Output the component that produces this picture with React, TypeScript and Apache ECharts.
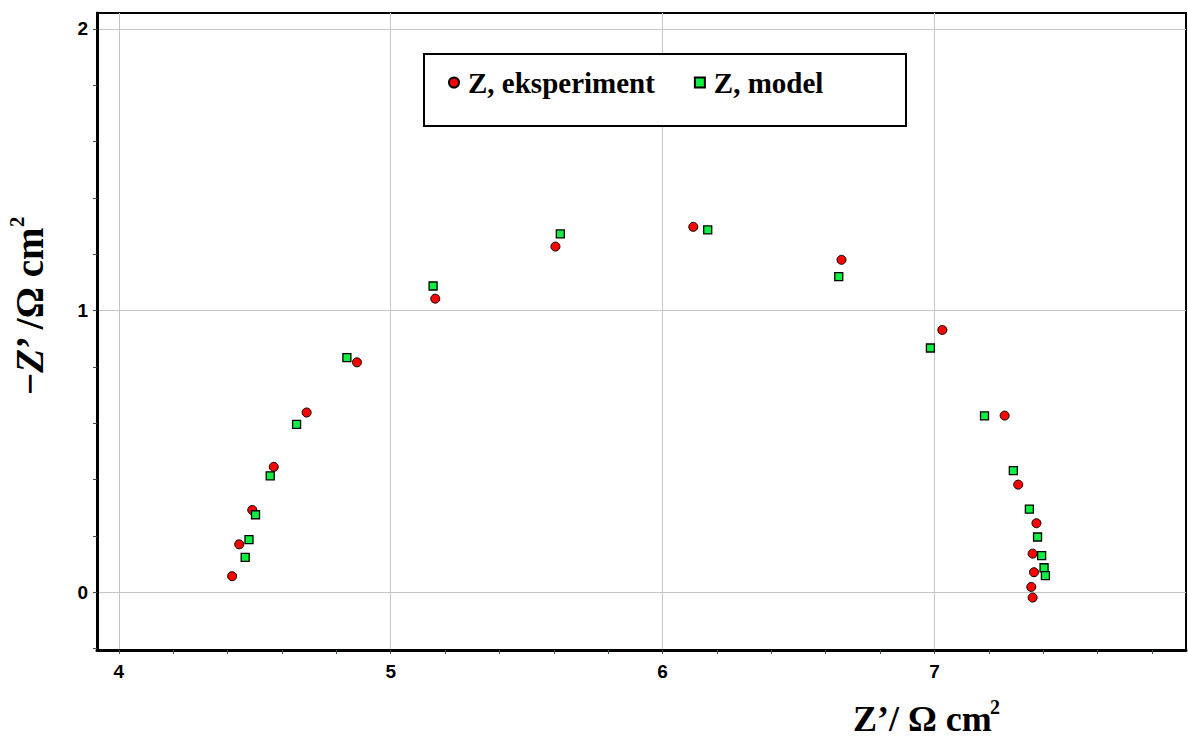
import React, { useEffect, useRef } from "react";
import * as echarts from "echarts";

const seriesNames = ["Z, eksperiment", "Z, model"];

const expX = [4.417, 4.443, 4.491, 4.570, 4.691, 4.876, 5.164, 5.606, 6.113, 6.658, 7.029, 7.258, 7.308, 7.375, 7.361, 7.366, 7.356, 7.361];
const expY = [0.057, 0.170, 0.292, 0.445, 0.638, 0.816, 1.042, 1.227, 1.297, 1.180, 0.931, 0.627, 0.382, 0.245, 0.137, 0.071, 0.019, -0.019];

const modX = [4.465, 4.479, 4.503, 4.557, 4.654, 4.839, 5.156, 5.624, 6.166, 6.648, 6.985, 7.184, 7.290, 7.349, 7.379, 7.394, 7.403, 7.408];
const modY = [0.124, 0.187, 0.275, 0.413, 0.596, 0.833, 1.087, 1.272, 1.286, 1.120, 0.867, 0.626, 0.432, 0.295, 0.196, 0.130, 0.087, 0.059];

const xTickValues = [4, 4.2, 4.4, 4.6, 4.8, 5, 5.2, 5.4, 5.6, 5.8, 6, 6.2, 6.4, 6.6, 6.8, 7, 7.2, 7.4, 7.6, 7.8];
const xLabelValues = [4, 5, 6, 7];
const yTickValues = [-0.2, 0, 0.2, 0.4, 0.6, 0.8, 1, 1.2, 1.4, 1.6, 1.8, 2];
const yLabelValues = [0, 1, 2];

const X_MIN = 3.92;
const X_MAX = 7.925;
const Y_MIN = -0.205;
const Y_MAX = 2.056;

const SERIF = "'Liberation Serif', 'Times New Roman', serif";
const SANS = "Arial, 'Liberation Sans', sans-serif";
const TICK_FONT = 19;

export default function App() {
  const ref = useRef<HTMLDivElement>(null);

  useEffect(() => {
    document.body.style.margin = "0";
    const chart = echarts.init(ref.current!, null, { renderer: "svg" });

    const tickStyle = { show: true, length: 4, inside: false, lineStyle: { color: "#2f5656", width: 1 } };

    const option: any = {
      animation: false,
      backgroundColor: "#fff",
      textStyle: { fontFamily: SANS },
      grid: {
        left: 97,
        right: 2,
        top: 13,
        bottom: 87,
        show: true,
        borderColor: "#000",
        borderWidth: 2,
        backgroundColor: "transparent",
      },
      xAxis: [
        {
          type: "value",
          min: X_MIN,
          max: X_MAX,
          position: "bottom",
          axisLine: { show: true, onZero: false, lineStyle: { color: "#000", width: 3 } },
          axisTick: { ...tickStyle, customValues: xTickValues },
          axisLabel: {
            show: true,
            color: "#000",
            fontFamily: SANS,
            fontWeight: "bold",
            fontSize: TICK_FONT,
            margin: 12,
            customValues: xLabelValues,
          },
          splitLine: { show: false },
        },
        {
          type: "value",
          min: X_MIN,
          max: X_MAX,
          position: "top",
          axisLine: { show: false },
          axisTick: { show: false, customValues: xLabelValues },
          axisLabel: { show: false },
          splitLine: { show: true, lineStyle: { color: "#c4c4c4", width: 1 } },
        },
      ],
      yAxis: [
        {
          type: "value",
          min: Y_MIN,
          max: Y_MAX,
          position: "left",
          axisLine: { show: true, onZero: false, lineStyle: { color: "#000", width: 3 } },
          axisTick: { ...tickStyle, customValues: yTickValues },
          axisLabel: {
            show: true,
            color: "#000",
            fontFamily: SANS,
            fontWeight: "bold",
            fontSize: TICK_FONT,
            margin: 9,
            customValues: yLabelValues,
          },
          splitLine: { show: false },
        },
        {
          type: "value",
          min: Y_MIN,
          max: Y_MAX,
          position: "right",
          axisLine: { show: false },
          axisTick: { show: false, customValues: yLabelValues },
          axisLabel: { show: false },
          splitLine: { show: true, lineStyle: { color: "#c4c4c4", width: 1 } },
        },
      ],
      legend: {
        show: true,
        left: 443,
        top: 63,
        z: 10,
        itemGap: 39,
        itemWidth: 10,
        itemHeight: 10,
        selectedMode: false,
        textStyle: {
          fontFamily: SERIF,
          fontWeight: "bold",
          fontSize: 29,
          color: "#000",
          padding: [0, 0, 0, 4],
        },
        data: seriesNames,
      },
      graphic: [
        {
          type: "rect",
          z: 5,
          shape: { x: 424, y: 54, width: 482, height: 72 },
          style: { fill: "#fff", stroke: "#000", lineWidth: 2 },
        },
        {
          type: "text",
          z: 10,
          x: 853,
          y: 718.5,
          style: {
            text: "Z\u2019/ \u03A9 cm",
            fontFamily: SERIF,
            fontWeight: "bold",
            fontSize: 36,
            fill: "#000",
            align: "left",
            verticalAlign: "middle",
          },
        },
        {
          type: "text",
          z: 10,
          x: 990,
          y: 707,
          style: {
            text: "2",
            fontFamily: SERIF,
            fontWeight: "bold",
            fontSize: 20,
            fill: "#000",
            align: "left",
            verticalAlign: "middle",
          },
        },
        {
          type: "group",
          x: 43,
          y: 395,
          rotation: Math.PI / 2,
          children: [
            {
              type: "text",
              x: 0,
              y: -13.5,
              style: {
                text: "{n|\u2212}{i|Z}{n|\u2019 /\u03A9 cm}",
                align: "left",
                verticalAlign: "middle",
                rich: {
                  n: { fontFamily: SERIF, fontWeight: "bold", fontSize: 39, fill: "#000", color: "#000" },
                  i: { fontFamily: SERIF, fontWeight: "bold", fontStyle: "italic", fontSize: 39, fill: "#000", color: "#000" },
                },
              },
            },
            {
              type: "text",
              x: 168,
              y: -26,
              style: {
                text: "2",
                fontFamily: SERIF,
                fontWeight: "bold",
                fontSize: 21,
                fill: "#000",
                align: "left",
                verticalAlign: "middle",
              },
            },
          ],
        },
      ],
      series: [
        {
          name: seriesNames[0],
          type: "scatter",
          xAxisIndex: 0,
          yAxisIndex: 0,
          symbol: "circle",
          symbolSize: 9,
          z: 3,
          itemStyle: { color: "#ff0000", borderColor: "#000", borderWidth: 1, opacity: 1 },
          data: expX.map((x, i) => [x, expY[i]]),
        },
        {
          name: seriesNames[1],
          type: "scatter",
          xAxisIndex: 0,
          yAxisIndex: 0,
          symbol: "rect",
          symbolSize: 8,
          z: 3,
          itemStyle: { color: "#10ee40", borderColor: "#000", borderWidth: 1.3, opacity: 1 },
          data: modX.map((x, i) => [x, modY[i]]),
        },
      ],
    };

    chart.setOption(option);
    return () => chart.dispose();
  }, []);

  return <div ref={ref} style={{ width: 1188, height: 737 }} />;
}
